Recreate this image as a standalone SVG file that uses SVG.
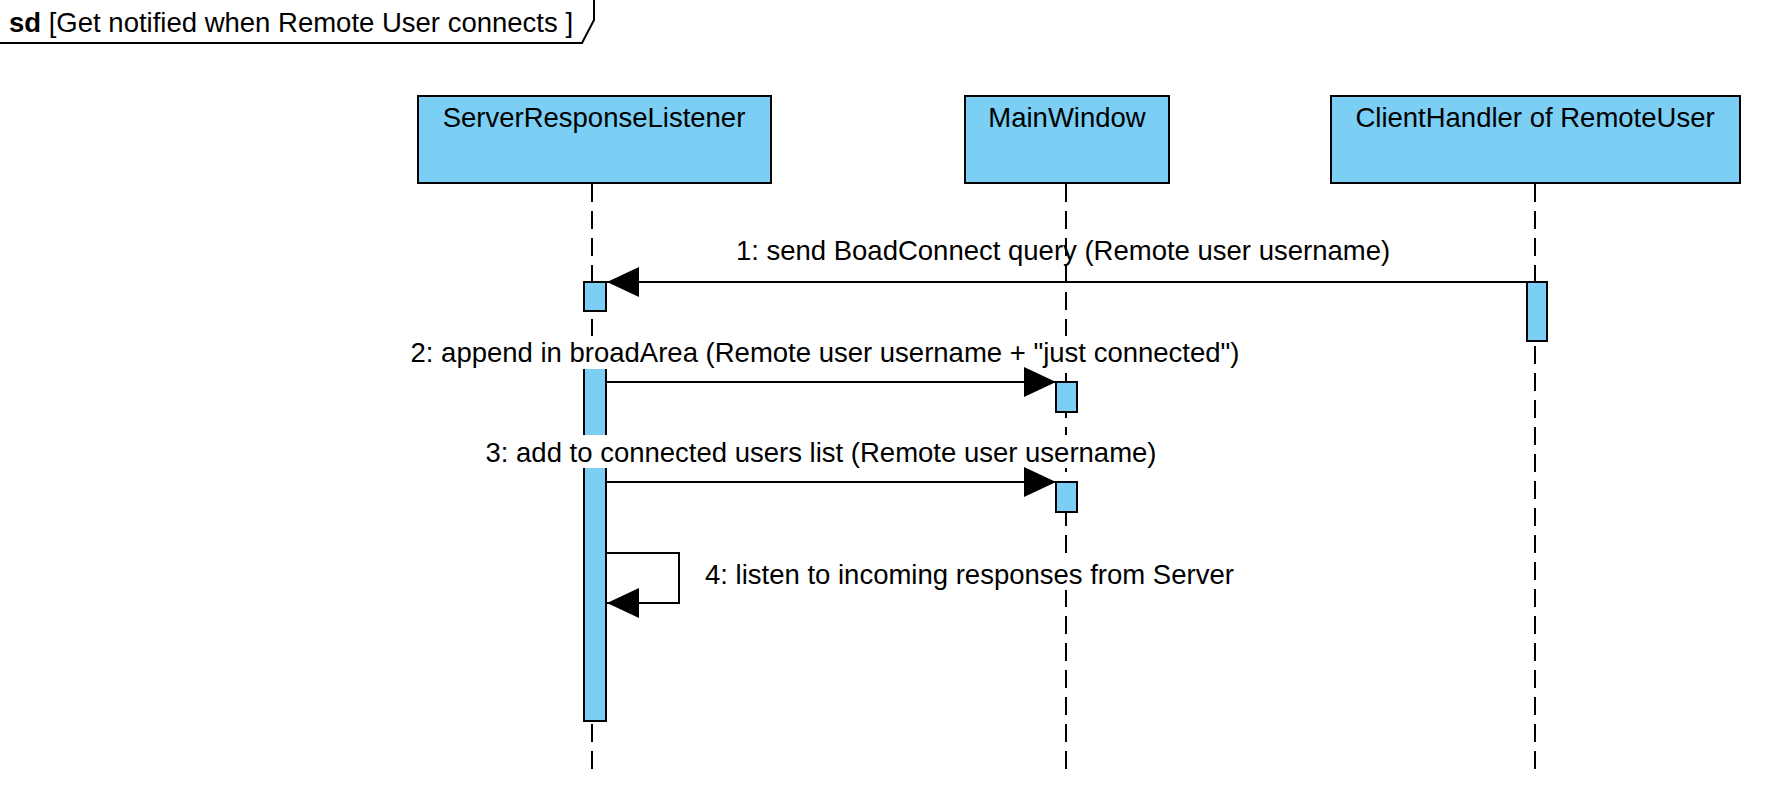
<svg xmlns="http://www.w3.org/2000/svg" width="1775" height="802" viewBox="0 0 1775 802">
<defs>
<style>
text{font-family:"Liberation Sans",Arial,sans-serif;font-size:27.5px;fill:#000}
.box{fill:#7BCEF4;stroke:#000;stroke-width:2}
.life{stroke:#000;stroke-width:2;stroke-dasharray:18 9;fill:none}
.msg{stroke:#000;stroke-width:2;fill:none}
.bg{fill:#fff}
</style>
<marker id="ah" viewBox="0 0 32 30" refX="32" refY="15" markerWidth="32" markerHeight="30" markerUnits="userSpaceOnUse" orient="auto">
<path d="M0,0 L32,15 L0,30 Z" fill="#000"/>
</marker>
</defs>
<rect width="1775" height="802" fill="#fff"/>
<g id="frame">
<path d="M0,43 H582 L594,20 V0" fill="none" stroke="#000" stroke-width="2"/>
<text x="9" y="32" font-size="27"><tspan font-weight="bold">sd</tspan> [Get notified when Remote User connects ]</text>
</g>
<g id="lifelines">
<line class="life" x1="592" y1="184" x2="592" y2="772"/>
<line class="life" x1="1066" y1="184" x2="1066" y2="772"/>
<line class="life" x1="1535" y1="184" x2="1535" y2="772"/>
</g>
<g id="ServerResponseListener">
<rect class="box" x="418" y="96" width="353" height="87"/>
<text x="594" y="127" text-anchor="middle">ServerResponseListener</text>
<rect class="box" x="584" y="282" width="22" height="29"/>
<rect class="box" x="584" y="345" width="22" height="376"/>
</g>
<g id="MainWindow">
<rect class="box" x="965" y="96" width="204" height="87"/>
<text x="1067" y="127" text-anchor="middle">MainWindow</text>
<rect class="box" x="1056" y="382" width="21" height="30"/>
<rect class="box" x="1056" y="482" width="21" height="30"/>
</g>
<g id="ClientHandler">
<rect class="box" x="1331" y="96" width="409" height="87"/>
<text x="1535" y="127" text-anchor="middle">ClientHandler of RemoteUser</text>
<rect class="box" x="1527" y="282" width="20" height="59"/>
</g>
<g id="connectors">
<line class="msg" x1="1527" y1="282" x2="607" y2="282" marker-end="url(#ah)"/>
<text x="1063" y="260" text-anchor="middle">1: send BoadConnect query (Remote user username)</text>
<rect class="bg" x="406" y="336" width="840" height="33"/>
<text x="825" y="362" text-anchor="middle">2: append in broadArea (Remote user username + "just connected")</text>
<line class="msg" x1="606" y1="382" x2="1056" y2="382" marker-end="url(#ah)"/>
<rect class="bg" x="482" y="435" width="678" height="33"/>
<text x="821" y="462" text-anchor="middle">3: add to connected users list (Remote user username)</text>
<line class="msg" x1="606" y1="482" x2="1056" y2="482" marker-end="url(#ah)"/>
<path class="msg" d="M606,553 H679 V603 H607" marker-end="url(#ah)"/>
<rect class="bg" x="702" y="557" width="536" height="33"/>
<text x="705" y="584">4: listen to incoming responses from Server</text>
</g>
</svg>
